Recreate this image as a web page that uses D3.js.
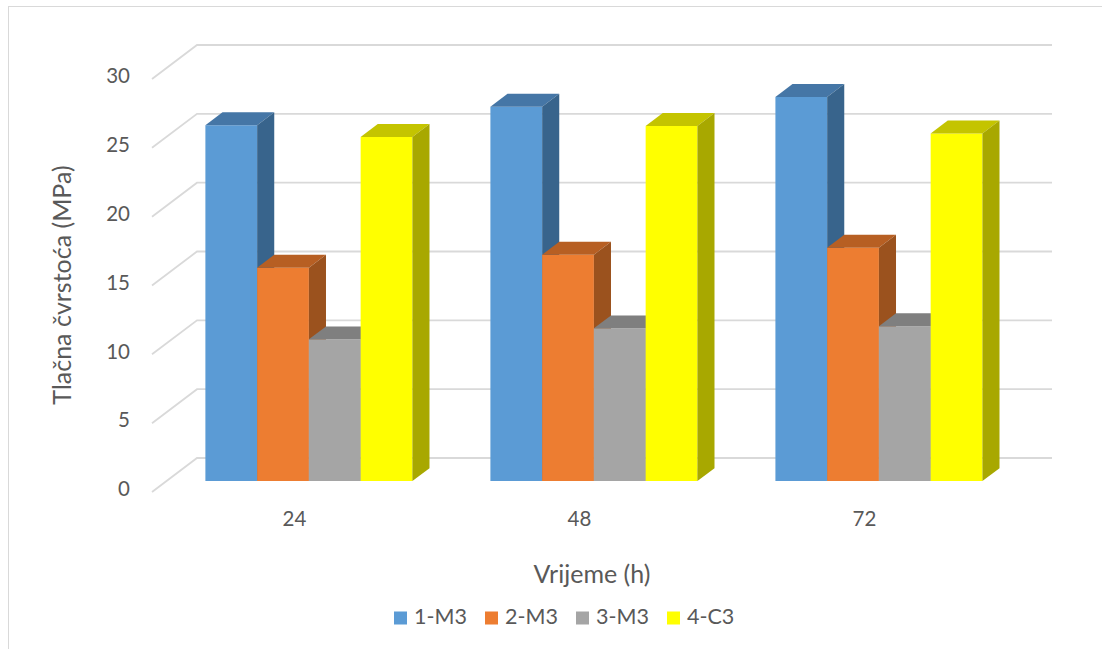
<!DOCTYPE html>
<html>
<head>
<meta charset="utf-8">
<script src="https://cdn.jsdelivr.net/npm/d3@7"></script>
<style>
  html, body { margin: 0; padding: 0; background: #fff; }
  svg { display: block; }
  text { font-family: Lato, "Noto Sans", sans-serif; fill: #595959; }
</style>
</head>
<body>
<svg id="chart" width="1102" height="649"></svg>
<script>
// ---- data ----
const categories = ["24", "48", "72"];
const seriesNames = ["1-M3", "2-M3", "3-M3", "4-C3"];
const s1_M3 = [25.85, 27.2, 27.9];
const s2_M3 = [15.5, 16.45, 16.95];
const s3_M3 = [10.3, 11.1, 11.25];
const s4_C3 = [25.0, 25.8, 25.25];
const seriesValues = [s1_M3, s2_M3, s3_M3, s4_C3];
const yTicks = [0, 5, 10, 15, 20, 25, 30];
const yTitle = "Tlačna čvrstoća (MPa)";
const xTitle = "Vrijeme (h)";

// ---- styling ----
const colors = [
  { front: "#5B9BD5", top: "#4576A6", side: "#38648C" },
  { front: "#ED7D31", top: "#B75F23", side: "#9B521E" },
  { front: "#A5A5A5", top: "#7F7F7F", side: "#6F6F6F" },
  { front: "#FFFF00", top: "#C4C400", side: "#A8A800" }
];

const svg = d3.select("#chart");

// chart area border
svg.append("rect").attr("x", 8.5).attr("y", 6.5).attr("width", 1200).attr("height", 700)
  .attr("fill", "#fff").attr("stroke", "#D9D9D9").attr("stroke-width", 1);

// projection parameters (oblique 3D)
const DX = 45, DY = 34;          // full depth offset
const D0 = 0.32, D1 = 0.70;      // bar depth span

const x = d3.scaleBand().domain(categories).range([152, 1007])
  .paddingInner(0.2737).paddingOuter(0.1368);
const xs = d3.scaleBand().domain(seriesNames).range([0, x.bandwidth()]);
const y = d3.scaleLinear().domain([0, 30]).range([492, 79]);

const P = (px, v, d) => [px + d * DX, y(v) - d * DY];

// gridlines: side wall diagonals + back wall horizontals
const grid = svg.append("g").attr("stroke", "#D9D9D9").attr("stroke-width", 1.8).attr("fill", "none");
yTicks.forEach(t => {
  const a = P(152, t, 0), b = P(152, t, 1), c = P(1007, t, 1);
  grid.append("path").attr("d", `M${a[0]},${a[1]}L${b[0]},${b[1]}L${c[0]},${c[1]}`);
});

// tick labels
svg.append("g").selectAll("text").data(yTicks).join("text")
  .attr("x", 130).attr("y", d => y(d) - 1)
  .attr("text-anchor", "end").attr("dominant-baseline", "middle")
  .style("font-size", "20.5px").text(d => d);

// bars
const bars = svg.append("g");
categories.forEach((cat, ci) => {
  seriesNames.forEach((s, si) => {
    const v = seriesValues[si][ci];
    const x0 = x(cat) + xs(s), x1 = x0 + xs.bandwidth();
    const c = colors[si];
    const f00 = P(x0, 0, D0), f10 = P(x1, 0, D0), f1v = P(x1, v, D0), f0v = P(x0, v, D0);
    const b0v = P(x0, v, D1), b1v = P(x1, v, D1), b10 = P(x1, 0, D1);
    const poly = pts => "M" + pts.map(p => p.join(",")).join("L") + "Z";
    bars.append("path").attr("d", poly([f00, f10, f1v, f0v])).attr("fill", c.front);
    bars.append("path").attr("d", poly([f0v, f1v, b1v, b0v])).attr("fill", c.top);
    bars.append("path").attr("d", poly([f10, b10, b1v, f1v])).attr("fill", c.side);
  });
});

// category labels
svg.append("g").selectAll("text").data(categories).join("text")
  .attr("x", d => x(d) + x.bandwidth() / 2).attr("y", 521)
  .attr("text-anchor", "middle").attr("dominant-baseline", "middle")
  .style("font-size", "20.5px").text(d => d);

// axis titles
svg.append("text").attr("x", 592).attr("y", 577)
  .attr("text-anchor", "middle").attr("dominant-baseline", "middle")
  .style("font-size", "25px").text(xTitle);
svg.append("text").attr("transform", "translate(65,285) rotate(-90)")
  .attr("text-anchor", "middle").attr("dominant-baseline", "middle")
  .style("font-size", "25px").text(yTitle);

// legend
const lg = svg.append("g");
seriesNames.forEach((s, i) => {
  const lx = 394 + i * 91;
  lg.append("rect").attr("x", lx).attr("y", 611.5).attr("width", 13).attr("height", 13).attr("fill", colors[i].front);
  lg.append("text").attr("x", lx + 20).attr("y", 618.5).attr("dominant-baseline", "middle")
    .style("font-size", "21.5px").text(s);
});
</script>
</body>
</html>
